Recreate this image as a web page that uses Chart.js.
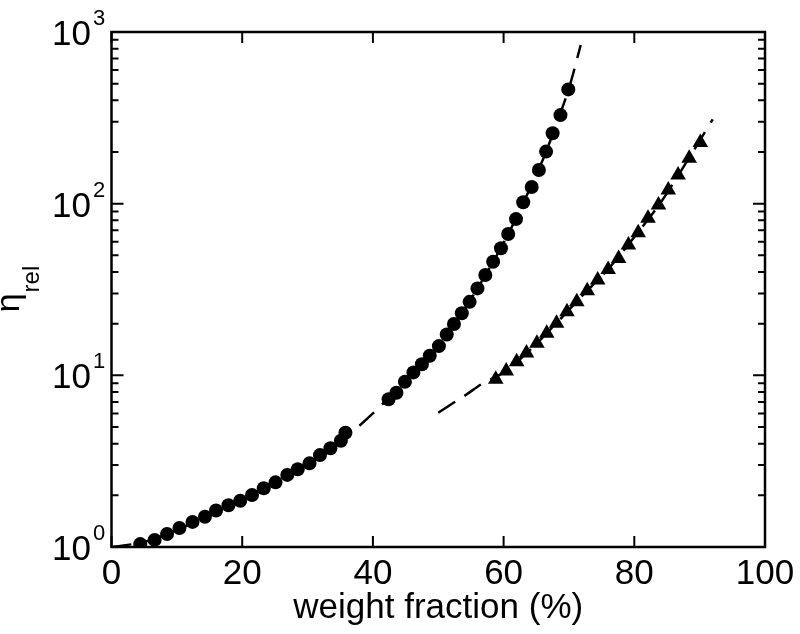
<!DOCTYPE html>
<html>
<head>
<meta charset="utf-8">
<script src="https://cdn.jsdelivr.net/npm/chart.js@4/dist/chart.umd.min.js"></script>
<style>
  html, body { margin: 0; padding: 0; background: #fff; }
  #wrap { width: 800px; height: 634px; }
</style>
</head>
<body>
<div id="wrap"><canvas id="chart"></canvas></div>
<script>
// circles (first sample)
const circleX = [4.4, 6.6, 8.5, 10.4, 12.4, 14.3, 16.0, 17.9, 19.7, 21.5, 23.3, 25.1, 26.9, 28.5, 30.3, 31.9, 33.5, 35.1, 35.8,
  42.4, 43.6, 44.9, 46.2, 47.5, 48.7, 50.1, 51.3, 52.4, 53.6, 54.8, 56.0, 57.2, 58.4, 59.6, 60.7, 61.9, 63.0, 64.3, 65.4,
  66.5, 67.5, 68.7, 69.9];
const circleY = [1.04, 1.10, 1.19, 1.29, 1.40, 1.50, 1.63, 1.75, 1.86, 2.01, 2.20, 2.38, 2.63, 2.84, 3.07, 3.43, 3.76, 4.16, 4.63,
  7.25, 7.92, 9.18, 10.4, 11.6, 13.0, 14.8, 17.3, 19.9, 23.0, 26.8, 32.1, 38.4, 45.9, 55.0, 66.6, 81.3, 102, 125, 157,
  201, 257, 328, 463];

// triangles (second sample)
const triX = [58.8, 60.4, 62.0, 63.5, 65.1, 66.6, 68.1, 69.7, 71.2, 72.8, 74.4, 76.0, 77.6, 79.1, 80.6, 82.1, 83.7, 85.2, 86.7, 88.4, 90.1];
const triY = [9.48, 10.6, 12.0, 13.5, 15.4, 17.6, 20.1, 23.5, 26.8, 31.1, 35.9, 41.4, 48.0, 57.4, 67.7, 82.1, 98.1, 120, 147, 184, 227];

// dashed fit curves
const fit1X = [0, 5, 10, 15, 20, 25, 30, 35, 40, 45, 50, 55, 60, 63, 66, 68, 70, 71.8];
const fit1Y = [1.0, 1.07, 1.26, 1.52, 1.88, 2.36, 3.02, 4.1, 6.0, 9.3, 14.5, 27.8, 59, 101, 180, 285, 470, 840];
const fit2X = [50, 52.7, 54.2, 56.8, 60, 64, 68, 72, 76, 80, 84, 88, 92];
const fit2Y = [6.05, 7.06, 7.68, 8.98, 10.4, 14.0, 20.0, 29.0, 41.5, 64, 101, 175, 310];

// axes
const xTicks = [0, 20, 40, 60, 80, 100];
const yMajor = [1, 10, 100, 1000];
const yExp = ['0', '1', '2', '3'];
const xTitle = 'weight fraction (%)';
const yTitle = 'η';
const yTitleSub = 'rel';

const pts = (xs, ys) => xs.map((x, i) => ({ x: x, y: ys[i] }));

const FONT = '"Liberation Sans", Arial, sans-serif';

const frame = {
  id: 'frame',
  afterDraw(chart) {
    const { ctx, chartArea: a } = chart;
    const xs = chart.scales.x;
    const ys = chart.scales.y;
    ctx.save();
    ctx.strokeStyle = '#000';
    ctx.fillStyle = '#000';
    ctx.lineWidth = 2.5;
    ctx.strokeRect(a.left, a.top, a.right - a.left, a.bottom - a.top);

    // x ticks, inward, bottom and top
    ctx.lineWidth = 2;
    ctx.beginPath();
    xTicks.forEach((v) => {
      const px = xs.getPixelForValue(v);
      ctx.moveTo(px, a.bottom);
      ctx.lineTo(px, a.bottom - 11);
      ctx.moveTo(px, a.top);
      ctx.lineTo(px, a.top + 11);
    });
    // y ticks, log, both sides
    for (let d = 0; d < 3; d++) {
      for (let m = 1; m <= 9; m++) {
        const v = m * Math.pow(10, d);
        const py = ys.getPixelForValue(v);
        const len = m === 1 ? 12 : 7;
        ctx.moveTo(a.left, py);
        ctx.lineTo(a.left + len, py);
        ctx.moveTo(a.right, py);
        ctx.lineTo(a.right - len, py);
      }
    }
    ctx.stroke();

    // x labels
    ctx.font = '35px ' + FONT;
    ctx.textAlign = 'center';
    ctx.textBaseline = 'alphabetic';
    xTicks.forEach((v) => {
      ctx.fillText(String(v), xs.getPixelForValue(v), a.bottom + 37);
    });

    // y labels 10^n
    yMajor.forEach((v, i) => {
      const py = ys.getPixelForValue(v);
      ctx.font = '35px ' + FONT;
      ctx.textAlign = 'right';
      ctx.fillText('10', 91, py + 13);
      ctx.font = '22px ' + FONT;
      ctx.textAlign = 'left';
      ctx.fillText(yExp[i], 93, py - 7);
    });

    // x title
    ctx.font = '35px ' + FONT;
    ctx.textAlign = 'center';
    ctx.fillText(xTitle, (a.left + a.right) / 2, 618);

    // y title, rotated
    ctx.translate(19, (a.top + a.bottom) / 2);
    ctx.rotate(-Math.PI / 2);
    ctx.font = '34px ' + FONT;
    const w1 = ctx.measureText(yTitle).width;
    ctx.font = '24px ' + FONT;
    const w2 = ctx.measureText(yTitleSub).width;
    const start = -(w1 + w2) / 2;
    ctx.textAlign = 'left';
    ctx.font = '34px ' + FONT;
    ctx.fillText(yTitle, start, 0);
    ctx.font = '24px ' + FONT;
    ctx.fillText(yTitleSub, start + w1 + 1, 20);
    ctx.restore();
  }
};

new Chart(document.getElementById('chart'), {
  type: 'scatter',
  data: {
    datasets: [
      {
        label: 'fit 1',
        data: pts(fit1X, fit1Y),
        showLine: true,
        borderColor: '#000',
        borderWidth: 2.5,
        borderDash: [20, 11],
        pointRadius: 0,
        tension: 0.3,
      },
      {
        label: 'fit 2',
        data: pts(fit2X, fit2Y),
        showLine: true,
        borderColor: '#000',
        borderWidth: 2.5,
        borderDash: [20, 11],
        pointRadius: 0,
        tension: 0.3,
      },
      {
        label: 'circles',
        data: pts(circleX, circleY),
        pointStyle: 'circle',
        pointRadius: 7,
        backgroundColor: '#000',
        borderColor: '#000',
        borderWidth: 0,
      },
      {
        label: 'triangles',
        data: pts(triX, triY),
        pointStyle: 'triangle',
        pointRadius: 9,
        backgroundColor: '#000',
        borderColor: '#000',
        borderWidth: 0,
      },
    ],
  },
  options: {
    responsive: true,
    maintainAspectRatio: false,
    animation: false,
    layout: {
      padding: { left: 111.5, right: 35, top: 32, bottom: 87 },
    },
    plugins: {
      legend: { display: false },
      tooltip: { enabled: false },
    },
    scales: {
      x: { type: 'linear', min: 0, max: 100, display: false },
      y: { type: 'logarithmic', min: 1, max: 1000, display: false },
    },
  },
  plugins: [frame],
});
</script>
</body>
</html>
